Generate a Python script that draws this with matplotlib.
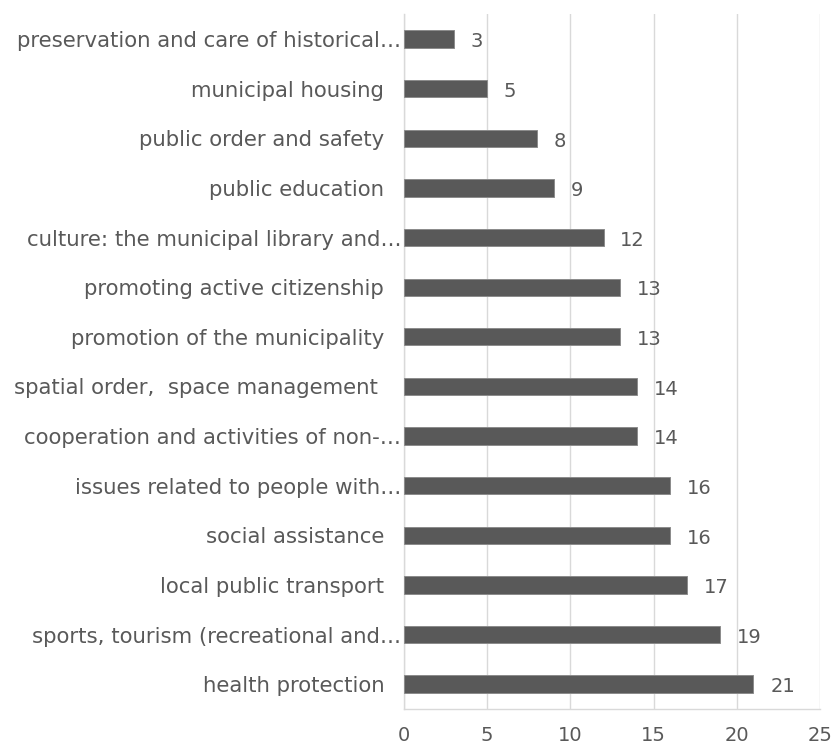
import matplotlib
matplotlib.use("Agg")
import matplotlib.pyplot as plt
from matplotlib.transforms import ScaledTranslation

# categories listed bottom to top as drawn
categories = [
    "health protection",
    "sports, tourism (recreational and…",
    "local public transport",
    "social assistance",
    "issues related to people with…",
    "cooperation and activities of non-…",
    "spatial order,  space management ",
    "promotion of the municipality",
    "promoting active citizenship",
    "culture: the municipal library and…",
    "public education",
    "public order and safety",
    "municipal housing",
    "preservation and care of historical…",
]
values = [21, 19, 17, 16, 16, 14, 14, 13, 13, 12, 9, 8, 5, 3]
x_ticks = [0, 5, 10, 15, 20, 25]

text_col = "#595959"
grid_col = "#d9d9d9"

fig = plt.figure(figsize=(8.32, 7.47), dpi=100)
ax = fig.add_axes([0.4856, 0.0509, 0.5, 0.930])

pos = list(range(len(categories)))
ax.barh(pos, values, height=0.35, color="#595959",
        edgecolor="#8c8c8c", linewidth=0.7, zorder=3)

for p, v in zip(pos, values):
    ax.annotate(str(v), (v, p), xytext=(12, -2), textcoords="offset points",
                va="center", ha="left", fontsize=14, color=text_col)

ax.set_xlim(0, 25)
ax.set_ylim(-0.5, len(categories) - 0.5)
ax.set_xticks(x_ticks)
ax.set_yticks(pos)
ax.set_yticklabels(categories)
ax.xaxis.grid(True, color=grid_col, linewidth=1, zorder=0)
ax.tick_params(axis="both", length=0, colors=text_col)
ax.tick_params(axis="x", pad=12, labelsize=14)
ax.tick_params(axis="y", pad=2, labelsize=15.3)

# labels that are not cut short sit a bit further from the axis
shift = ScaledTranslation(-0.17, 0, fig.dpi_scale_trans)
for lab in ax.get_yticklabels():
    if not lab.get_text().endswith("…"):
        lab.set_transform(lab.get_transform() + shift)

for s in ["top", "right"]:
    ax.spines[s].set_visible(False)
for s in ["left", "bottom"]:
    ax.spines[s].set_color(grid_col)
    ax.spines[s].set_linewidth(1)

fig.savefig("out.png", dpi=100)
